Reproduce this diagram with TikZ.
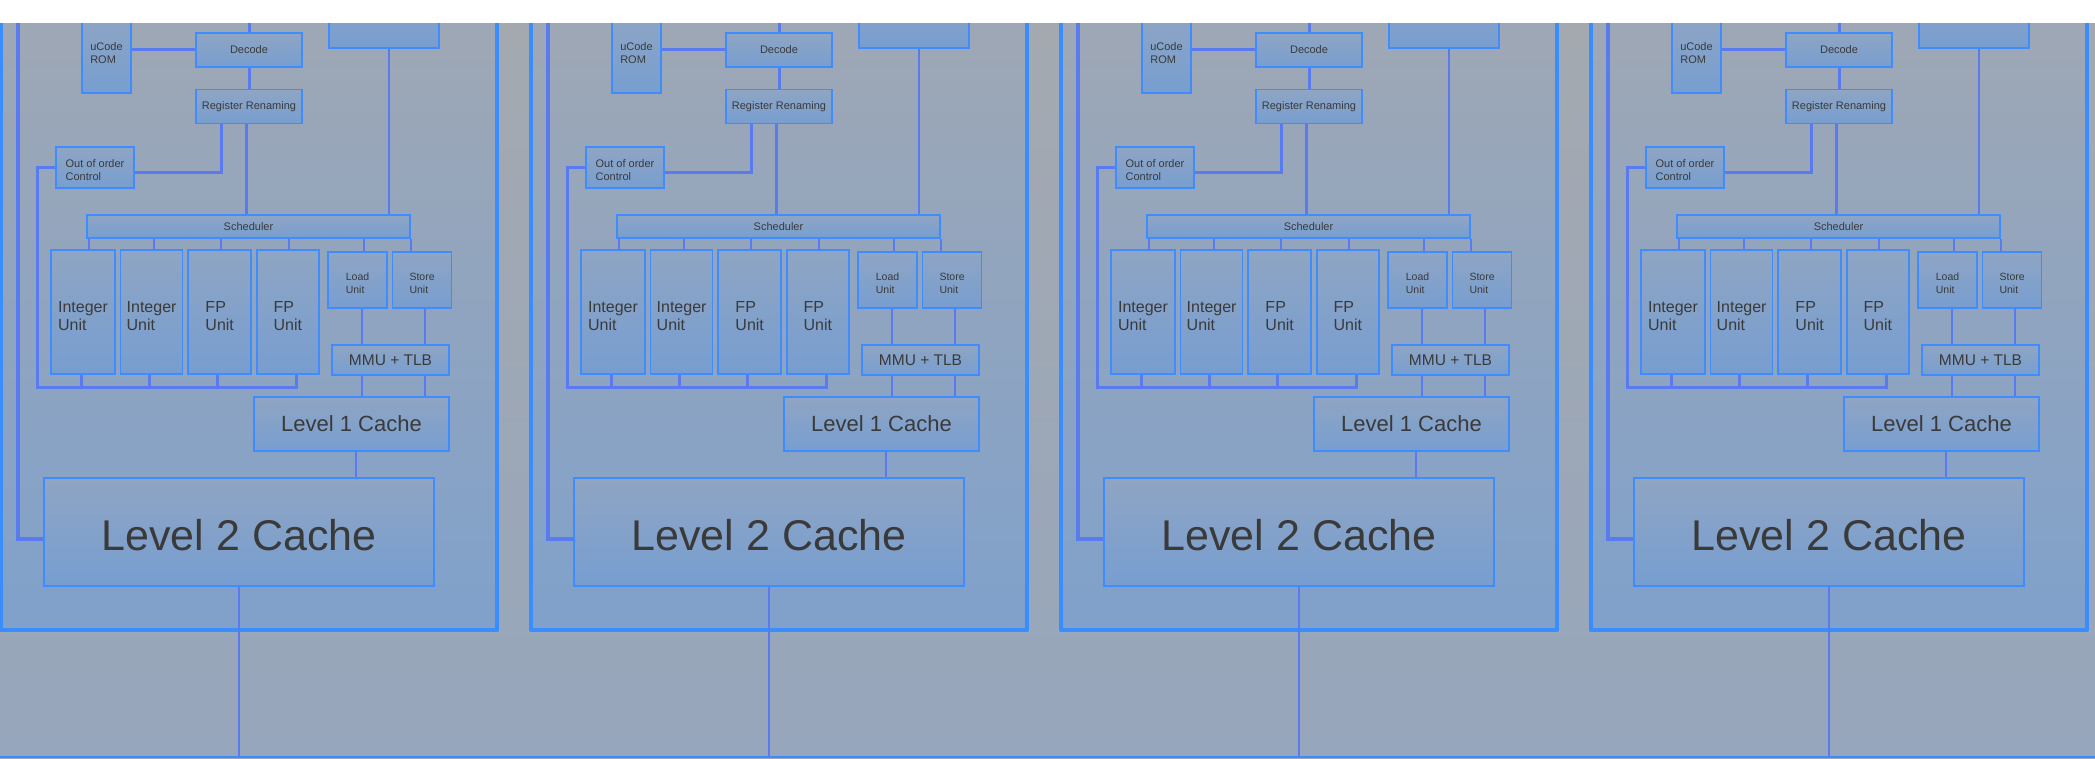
\documentclass[tikz,border=0pt]{standalone}
\usepackage{fontspec}
\setmainfont{Liberation Sans}
\usepackage{tikz}
\usetikzlibrary{positioning, calc}
\definecolor{bgtop}{HTML}{A4A9B0}
\definecolor{bgbot}{HTML}{96A6BC}
\definecolor{coretop}{HTML}{A1A8B3}
\definecolor{corebot}{HTML}{80A1CB}
\definecolor{boxtop}{HTML}{8FA5C3}
\definecolor{boxbot}{HTML}{779ED0}
\definecolor{frameblue}{HTML}{3A8DFF}
\definecolor{edgeblue}{HTML}{3F8CFF}
\definecolor{wireblue}{HTML}{5A7AF0}
\definecolor{txtgray}{HTML}{3A3A3A}
\newcommand{\txtdrop}[1]{\rule{0pt}{#1}}

\begin{document}
\begin{tikzpicture}[
  x=1pt, y=-1pt,
  blk/.style={
    rectangle, draw=edgeblue, line width=1.6pt,
    top color=boxtop, bottom color=boxbot, text=txtgray,
    inner sep=0pt, align=left, font=\fontsize{11}{13}\selectfont
  },
  unit/.style={blk, minimum height=124pt, font=\fontsize{16}{18}\selectfont},
  lsu/.style={blk, minimum width=59pt, minimum height=56pt, font=\fontsize{10.5}{13}\selectfont},
  bus/.style={draw=wireblue, line width=3pt},
  wire/.style={draw=wireblue, line width=1.8pt},
  coreframe/.style={draw=frameblue, line width=4.5pt, line join=round},
]
\useasboundingbox (0,0) rectangle (2095,759);

\begin{scope}
\clip (0,24) rectangle (2095,759);
\fill[top color=bgtop, bottom color=bgbot] (0,24) rectangle (2095,759);

% system bus
\coordinate (busL) at (0,757);
\coordinate (busR) at (2095,757);
\draw[draw=frameblue, line width=2pt] (busL) -- (busR);

\foreach \c in {0,1,2,3}{
\begin{scope}[xshift={\c*530pt}]
  % core outline
  \fill[top color=coretop, bottom color=corebot] (1,-30) rectangle (497,630);
  \draw[coreframe] (1,-30) rectangle (497,630);

  % front end
  \node[blk, minimum width=49pt, minimum height=80pt] (rom\c) at (106.5,53) {uCode\\ROM};
  \node[blk, minimum width=106pt, minimum height=34pt] (dec\c) at (249,50) {Decode};
  \node[blk, minimum width=106pt, minimum height=34pt, below=21pt of dec\c] (ren\c) {Register Renaming};
  \node[blk, minimum width=110pt, minimum height=68pt] (fetch\c) at (384,14) {};
  \node[blk, minimum width=78pt, minimum height=41pt] (ooo\c) at (95,167.5) {\txtdrop{13.5pt}Out of order\\Control};
  \node[blk, minimum width=323pt, minimum height=23pt] (sch\c) at (248.5,226.5) {Scheduler};

  % execution units
  \node[unit, minimum width=64pt] (ia\c) at (83,312) {\txtdrop{20pt}Integer\\Unit};
  \node[unit, minimum width=62pt, right=4pt of ia\c] (ib\c) {\txtdrop{20pt}Integer\\Unit};
  \node[unit, minimum width=63pt, right=4pt of ib\c] (fa\c) {\txtdrop{20pt}FP\\Unit};
  \node[unit, minimum width=62pt, right=4pt of fa\c] (fb\c) {\txtdrop{20pt}FP\\Unit};
  \node[lsu] (ld\c) at (357.5,280) {\txtdrop{13.5pt}Load\\Unit};
  \node[lsu, right=4pt of ld\c] (st\c) {\txtdrop{13.5pt}Store\\Unit};

  % memory side
  \node[blk, minimum width=117pt, minimum height=30pt, font=\fontsize{15.5}{18}\selectfont] (mmu\c) at (390.5,360) {MMU + TLB};
  \node[blk, minimum width=195pt, minimum height=54pt, font=\fontsize{22}{26}\selectfont] (l1\c) at (351.5,424) {Level 1 Cache};
  \node[blk, minimum width=390pt, minimum height=108pt, font=\fontsize{43}{50}\selectfont] (l2\c) at (239,532) {\txtdrop{36.5pt}Level 2 Cache};
  \coordinate (ret\c) at (37,387);

  % front end wiring
  \draw[bus] (dec\c.north) -- ++(0,-40);
  \draw[bus] (rom\c.east |- dec\c.west) -- (dec\c.west);
  \draw[bus] (dec\c) -- (ren\c);
  \draw[bus] ([xshift=-3pt]ren\c.south) -- ([xshift=-3pt]ren\c.south |- sch\c.north);
  \draw[bus] ([xshift=-28pt]ren\c.south) |- ([yshift=-5pt]ooo\c.east);
  \draw[bus, line width=2.5pt] ([xshift=5pt]fetch\c.south) -- ([xshift=5pt]fetch\c.south |- sch\c.north);

  % retire path
  \draw[bus] (ooo\c.west) -| (ret\c) -| ([xshift=9pt]fb\c.south);
  \foreach \u in {ia,ib,fa}
    \draw[bus] ([xshift=-2pt]\u\c.south) -- ([xshift=-2pt]\u\c.south |- ret\c);

  % issue ports
  \foreach \u/\d in {ia/6, ib/2, fa/1.5, fb/1, ld/6.5, st/-11.5}
    \draw[wire] ([xshift=\d pt]\u\c.north) -- ([xshift=\d pt]\u\c.north |- sch\c.south);

  % load/store path
  \draw[wire] ([xshift=4.5pt]ld\c.south) -- ([xshift=4.5pt]ld\c.south |- mmu\c.north);
  \draw[wire] ([xshift=2.5pt]st\c.south) -- ([xshift=2.5pt]st\c.south |- mmu\c.north);
  \draw[wire] ([xshift=4.5pt]ld\c.south |- mmu\c.south) -- ([xshift=4.5pt]ld\c.south |- l1\c.north);
  \draw[wire] ([xshift=2.5pt]st\c.south |- mmu\c.south) -- ([xshift=2.5pt]st\c.south |- l1\c.north);
  \draw[wire] ([xshift=4.5pt]l1\c.south) -- ([xshift=4.5pt]l1\c.south |- l2\c.north);

  % L2 links
  \draw[bus, line width=3.5pt] ([yshift=-7pt]l2\c.west) -| ++(-25,-600);
  \draw[wire, line width=2pt] (l2\c.south) -- (l2\c.south |- busL);
\end{scope}
}
\end{scope}

\end{tikzpicture}
\end{document}
